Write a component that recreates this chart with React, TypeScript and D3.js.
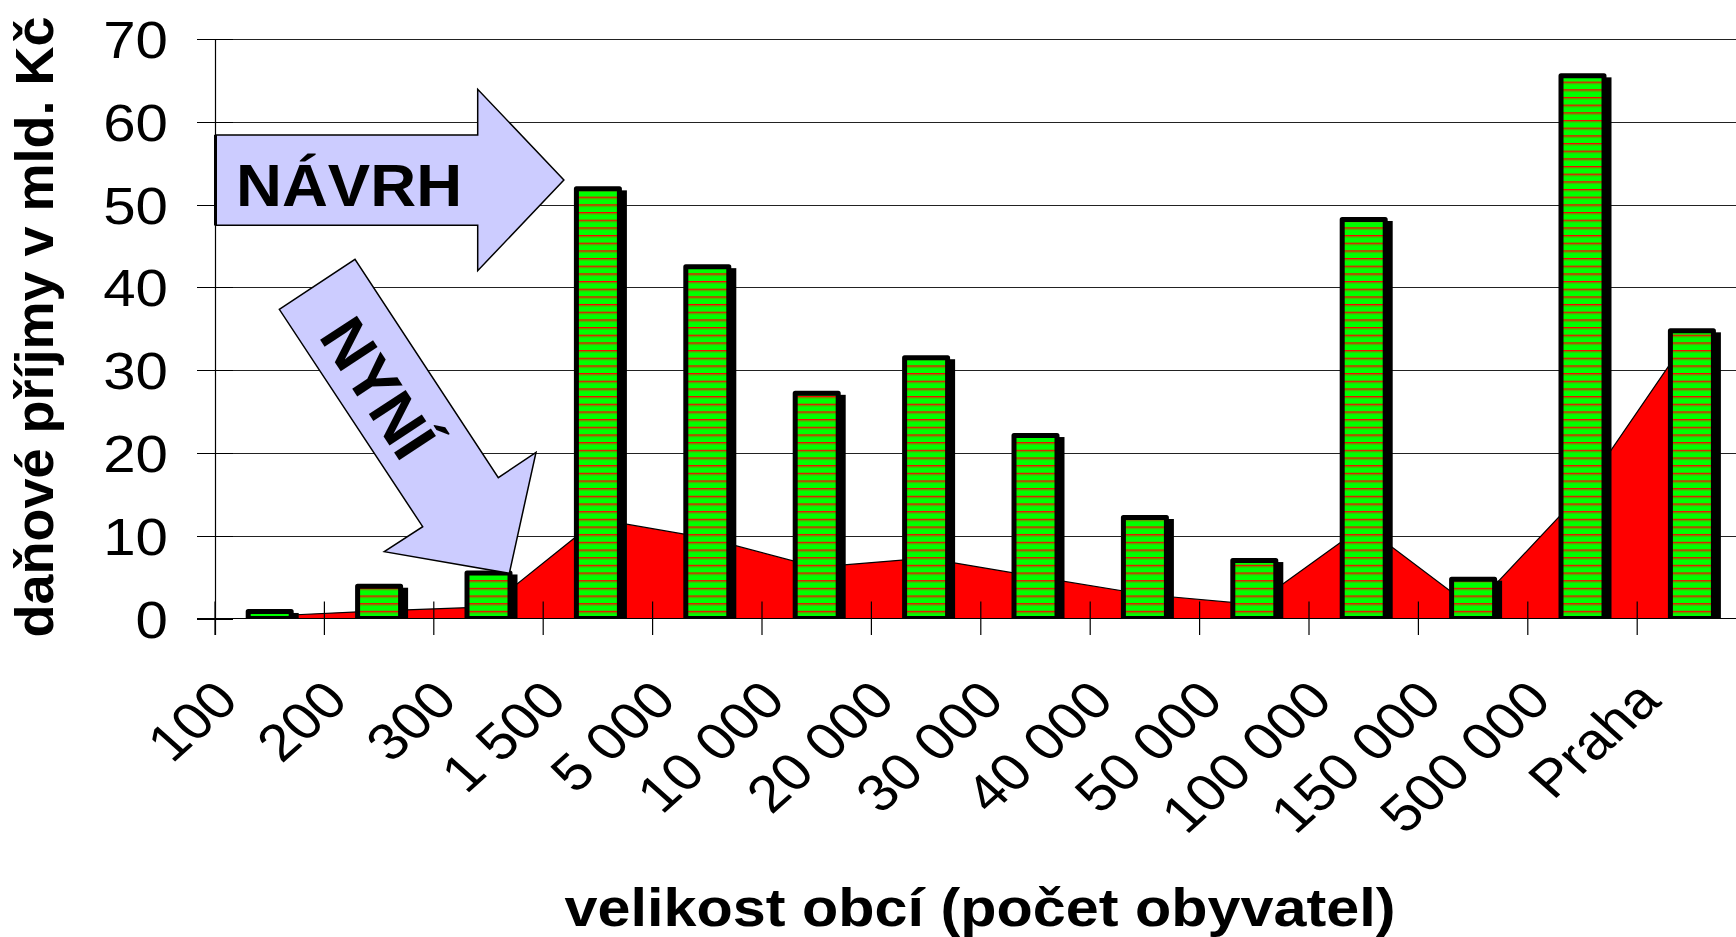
import React, { useRef, useEffect } from 'react'
import * as d3 from 'd3'

// size classes of municipalities (x axis)
const categories = ['100', '200', '300', '1 500', '5 000', '10 000', '20 000', '30 000', '40 000', '50 000', '100 000', '150 000', '500 000', 'Praha']
// proposal (striped green columns), bn CZK
const navrh = [0.85, 3.9, 5.5, 51.9, 42.5, 27.2, 31.5, 22.1, 12.2, 7.0, 48.2, 4.75, 65.55, 34.75]
// current state (red area), bn CZK
const nyni = [0.3, 0.93, 1.4, 12.0, 9.7, 6.2, 7.3, 5.05, 2.9, 1.7, 11.2, 1.25, 15.3, 34.6]
const yTicks = [0, 10, 20, 30, 40, 50, 60, 70]

const W = 1736
const H = 937
const FONT = '"Liberation Sans", Arial, sans-serif'
const SX = 1.12 // the original picture is a little stretched sideways

export default function App() {
  const ref = useRef<SVGSVGElement>(null)

  useEffect(() => {
    const svg = d3.select(ref.current)
    svg.selectAll('*').remove()

    const left = 215
    const step = 109.4
    const x = d3.scaleBand<string>().domain(categories).range([left, left + categories.length * step]).padding(0)
    const y = d3.scaleLinear().domain([0, 70]).range([618.5, 39])
    const cx = (c: string) => (x(c) as number) + x.bandwidth() / 2

    // stripes for the columns
    const defs = svg.append('defs')
    const pat = defs.append('pattern')
      .attr('id', 'stripes')
      .attr('patternUnits', 'userSpaceOnUse')
      .attr('width', 20).attr('height', 7.67)
      .attr('y', y(0))
    pat.append('rect').attr('width', 20).attr('height', 7.67).attr('fill', '#00ff00')
    pat.append('rect').attr('y', 0).attr('width', 20).attr('height', 1.3).attr('fill', '#ff0000')
    pat.append('rect').attr('y', 1.3).attr('width', 20).attr('height', 1).attr('fill', '#8a7a00')
    defs.append('clipPath').attr('id', 'plotclip')
      .append('rect').attr('x', 0).attr('y', 0).attr('width', W).attr('height', y(0))

    // gridlines
    svg.append('g').selectAll('line')
      .data(yTicks.filter(t => t > 0))
      .join('line')
      .attr('x1', left).attr('x2', W)
      .attr('y1', d => Math.round(y(d)) + 0.5).attr('y2', d => Math.round(y(d)) + 0.5)
      .attr('stroke', '#222').attr('stroke-width', 1)

    // current state area
    const area = d3.area<number>()
      .x((d, i) => cx(categories[i]))
      .y0(y(0))
      .y1(d => y(d))
    const line = d3.line<number>()
      .x((d, i) => cx(categories[i]))
      .y(d => y(d))
    svg.append('path').datum(nyni).attr('d', area).attr('fill', '#ff0000')
    svg.append('path').datum(nyni).attr('d', line).attr('fill', 'none').attr('stroke', '#000').attr('stroke-width', 1.2)

    // columns with shadow
    const bw = 43
    const bars = svg.append('g').attr('clip-path', 'url(#plotclip)')
    bars.selectAll('rect.shadow')
      .data(navrh)
      .join('rect')
      .attr('class', 'shadow')
      .attr('x', (d, i) => cx(categories[i]) - bw / 2 - 2.5 + 5)
      .attr('y', d => y(d) - 2.5 + 4)
      .attr('width', bw + 5)
      .attr('height', d => Math.max(0, y(0) - y(d) + 2.5 - 4))
      .attr('fill', '#000')
    bars.selectAll('rect.bar')
      .data(navrh)
      .join('rect')
      .attr('class', 'bar')
      .attr('x', (d, i) => cx(categories[i]) - bw / 2)
      .attr('y', d => y(d))
      .attr('width', bw)
      .attr('height', d => y(0) - y(d))
      .attr('fill', 'url(#stripes)')
      .attr('stroke', '#000')
      .attr('stroke-width', 5)
      .attr('stroke-linejoin', 'round')

    // axes
    const ax = svg.append('g').attr('stroke', '#000').attr('stroke-width', 1.2)
    ax.append('line').attr('x1', left + 0.5).attr('x2', left + 0.5).attr('y1', y(70)).attr('y2', 635)
    ax.append('line').attr('x1', 197).attr('x2', W).attr('y1', y(0)).attr('y2', y(0))
    ax.selectAll('line.ytick')
      .data(yTicks)
      .join('line')
      .attr('class', 'ytick')
      .attr('x1', 197).attr('x2', 233)
      .attr('y1', d => Math.round(y(d)) + 0.5).attr('y2', d => Math.round(y(d)) + 0.5)
    ax.selectAll('line.xtick')
      .data(d3.range(categories.length + 1))
      .join('line')
      .attr('class', 'xtick')
      .attr('x1', i => left + i * step).attr('x2', i => left + i * step)
      .attr('y1', 601.5).attr('y2', 635)

    // tick labels
    svg.append('g').selectAll('text')
      .data(yTicks)
      .join('text')
      .attr('transform', d => `translate(168,${y(d) + 19}) scale(${SX},1)`)
      .attr('text-anchor', 'end')
      .attr('font-family', FONT)
      .attr('font-size', 52)
      .text(d => d)

    svg.append('g').selectAll('text')
      .data(categories)
      .join('text')
      .attr('transform', d => `translate(${cx(d) - 29},703) scale(${SX},1) rotate(-45)`)
      .attr('text-anchor', 'end')
      .attr('font-family', FONT)
      .attr('font-size', 52)
      .text(d => d)

    // axis titles
    svg.append('text')
      .attr('transform', `translate(980,926) scale(${SX},1)`)
      .attr('text-anchor', 'middle')
      .attr('font-family', FONT)
      .attr('font-weight', 'bold')
      .attr('font-size', 53)
      .text('velikost obcí (počet obyvatel)')
    svg.append('text')
      .attr('transform', 'translate(53,327) rotate(-90)')
      .attr('text-anchor', 'middle')
      .attr('font-family', FONT)
      .attr('font-weight', 'bold')
      .attr('font-size', 54)
      .text('daňové příjmy v mld. Kč')

    // annotation arrows
    const navrhArrow: [number, number][] = [[215.5, 135], [477.7, 135], [477.7, 89.3], [563.9, 180], [477.7, 270.7], [477.7, 225.3], [215.5, 225.3]]
    const nyniArrow: [number, number][] = [[279.3, 309.3], [355, 259.3], [498.3, 477.7], [536, 452.3], [509.3, 573.3], [384.3, 551.7], [422.7, 526.7]]
    const poly = d3.line().curve(d3.curveLinearClosed)
    svg.append('path').attr('d', poly(navrhArrow)).attr('fill', '#ccccff').attr('stroke', '#000').attr('stroke-width', 1.5)
    svg.append('path').attr('d', poly(nyniArrow)).attr('fill', '#ccccff').attr('stroke', '#000').attr('stroke-width', 1.5)
    svg.append('line').attr('x1', left + 0.5).attr('x2', left + 0.5).attr('y1', 135).attr('y2', 225.3).attr('stroke', '#000').attr('stroke-width', 3)

    svg.append('text')
      .attr('transform', `translate(236,206) scale(1.06,1)`)
      .attr('font-family', FONT)
      .attr('font-weight', 'bold')
      .attr('font-size', 60)
      .text('NÁVRH')
    svg.append('text')
      .attr('transform', 'translate(378,388) rotate(56.7)')
      .attr('text-anchor', 'middle')
      .attr('dominant-baseline', 'central')
      .attr('font-family', FONT)
      .attr('font-weight', 'bold')
      .attr('font-size', 64)
      .text('NYNÍ')
  }, [])

  return (
    <svg
      ref={ref}
      width={W}
      height={H}
      style={{ position: 'absolute', left: 0, top: 0, background: '#fff', overflow: 'hidden' }}
    />
  )
}
